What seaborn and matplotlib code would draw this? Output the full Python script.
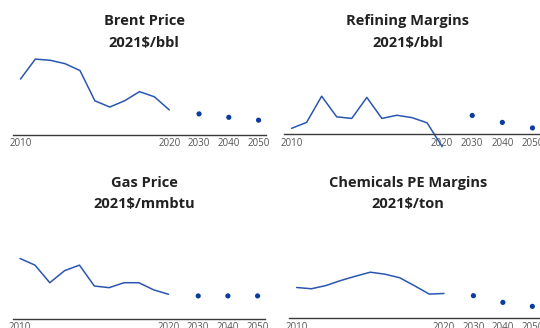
import matplotlib
matplotlib.use("Agg")
import matplotlib.pyplot as plt
import seaborn as sns
import pandas as pd

sns.set_theme(style="white")
plt.rcParams["font.family"] = ["Open Sans", "DejaVu Sans"]

# Historical years and outlook years
hist_years = list(range(2010, 2021))
outlook_years = [2030, 2040, 2050]
tick_years = [2010, 2020, 2030, 2040, 2050]

# Brent price, 2021$/bbl
brent_hist = [98, 133, 131, 125, 113, 60, 49, 60, 76, 67, 44]
brent_outlook = [37, 31, 26]

# Refining margins, 2021$/bbl
refining_hist = [1.5, 3.0, 9.6, 4.4, 4.0, 9.3, 4.0, 4.8, 4.2, 2.9, -3.1]
refining_outlook = [4.75, 3.0, 1.6]

# Gas price, 2021$/mmbtu
gas_hist = [5.5, 4.9, 3.3, 4.4, 4.9, 3.0, 2.85, 3.3, 3.3, 2.65, 2.25]
gas_outlook = [2.1, 2.1, 2.1]

# Chemicals PE margins, 2021$/ton
chem_hist = [387, 371, 412, 475, 529, 579, 554, 509, 409, 304, 312]
chem_outlook = [284, 200, 150]

LINE_COLOR = "#2a56b0"
DOT_COLOR = "#0b3d9e"
W, H = 540, 328


def slot(year):
    # yearly slots up to 2020, then one slot per decade with a gap between
    return year - 2010 if year <= 2020 else 10 + 2 * (year - 2020) // 10


fig = plt.figure(figsize=(W / 100, H / 100), dpi=100)

panels = [
    # title, units, hist, outlook, axes box in px (x0, x1, y_top, y_bottom), ymax, title x, title rows y
    ("Brent Price", "2021$/bbl", brent_hist, brent_outlook, (13, 266, 50, 135), 149, 144, (21, 42.5)),
    ("Refining Margins", "2021$/bbl", refining_hist, refining_outlook, (284, 540, 50, 134.3), 21.25, 408, (21, 42.5)),
    ("Gas Price", "2021$/mmbtu", gas_hist, gas_outlook, (12.7, 265, 214, 319), 9.55, 144, (183, 204)),
    ("Chemicals PE Margins", "2021$/ton", chem_hist, chem_outlook, (289.3, 539.7, 214, 318.3), 1310, 408, (183, 204)),
]

for title, units, hist, outlook, (x0, x1, yt, yb), ymax, tx, (ty1, ty2) in panels:
    ax = fig.add_axes([x0 / W, (H - yb) / H, (x1 - x0) / W, (yb - yt) / H])
    df_h = pd.DataFrame({"x": [slot(y) for y in hist_years], "v": hist})
    df_o = pd.DataFrame({"x": [slot(y) for y in outlook_years], "v": outlook})
    sns.lineplot(data=df_h, x="x", y="v", ax=ax, color=LINE_COLOR,
                 linewidth=1.1, clip_on=False)
    sns.scatterplot(data=df_o, x="x", y="v", ax=ax, color=DOT_COLOR,
                    s=14, edgecolor="none", clip_on=False)
    ax.set_xlim(-0.5, 16.5)
    ax.set_ylim(0, ymax)
    ax.set_xticks([slot(y) for y in tick_years])
    ax.set_xticklabels([str(y) for y in tick_years])
    ax.set_yticks([])
    ax.set_xlabel("")
    ax.set_ylabel("")
    for side in ("top", "right", "left"):
        ax.spines[side].set_visible(False)
    ax.spines["bottom"].set_color("#3a3a3a")
    ax.spines["bottom"].set_linewidth(1.0)
    ax.tick_params(axis="x", length=0, pad=2.5, labelsize=7, labelcolor="#555555")
    ax.patch.set_alpha(0)
    fig.text(tx / W, 1 - ty1 / H, title, ha="center", va="center",
             fontsize=10.5, fontweight="bold", color="#222222")
    fig.text(tx / W, 1 - ty2 / H, units, ha="center", va="center",
             fontsize=10.5, fontweight="bold", color="#222222")

fig.savefig("out.png", dpi=100)
